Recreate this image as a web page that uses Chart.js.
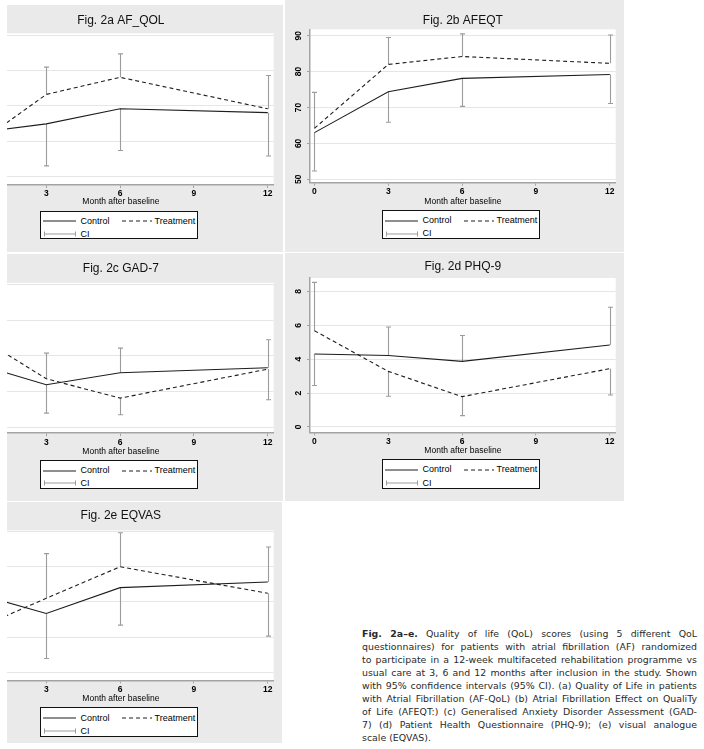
<!DOCTYPE html>
<html>
<head>
<meta charset="utf-8">
<script src="https://cdn.jsdelivr.net/npm/chart.js@4.4.1/dist/chart.umd.min.js"></script>
<style>
body { margin: 0; width: 704px; height: 749px; position: relative; overflow: hidden; background: #fff; font-family: "Liberation Sans", Arial, sans-serif; }
.panel { position: absolute; background: #eaeaea; overflow: hidden; }
.full { position: absolute; top: 0; width: 339px; }
.full canvas { position: absolute; left: 0; top: 0; }
.legend { position: absolute; left: 96.5px; width: 158px; background: #fff; border: 1px solid #111; box-sizing: border-box; }
.legend span { position: absolute; font-size: 9px; line-height: 10px; color: #000; white-space: nowrap; }
.legend svg { position: absolute; }
.caption { position: absolute; left: 362px; top: 627px; width: 335px; font-family: "DejaVu Sans", Verdana, sans-serif; font-size: 9.4px; line-height: 13px; color: #2a2a2a; }
.caption div { white-space: nowrap; text-align: justify; text-align-last: justify; }
.caption div:last-child { text-align-last: left; }
</style>
</head>
<body>
<div id="charts"></div>
<div class="caption">
<div><b>Fig. 2a–e.</b> Quality of life (QoL) scores (using 5 different QoL</div>
<div>questionnaires) for patients with atrial fibrillation (AF) randomized</div>
<div>to participate in a 12-week multifaceted rehabilitation programme vs</div>
<div>usual care at 3, 6 and 12 months after inclusion in the study. Shown</div>
<div>with 95% confidence intervals (95% CI). (a) Quality of Life in patients</div>
<div>with Atrial Fibrillation (AF-QoL) (b) Atrial Fibrillation Effect on QualiTy</div>
<div>of Life (AFEQT:) (c) Generalised Anxiety Disorder Assessment (GAD-</div>
<div>7) (d) Patient Health Questionnaire (PHQ-9); (e) visual analogue</div>
<div>scale (EQVAS).</div>
</div>
<script>
// months after baseline
const months = [0, 3, 6, 12];
const xTicks = [0, 3, 6, 9, 12];

// a: AF_QOL (y labels are cut off in the original, scale guessed)
const afqolTicks = [40, 50, 60, 70, 80];
const afqolControl = [52.2, 54.9, 59.2, 58.1];
const afqolTreatment = [48.2, 63.3, 68.2, 59.2];
const afqolUpper = [60.0, 71.1, 74.9, 68.7];
const afqolLower = [42.0, 42.9, 47.3, 45.7];

// b: AFEQT
const afeqtTicks = [50, 60, 70, 80, 90];
const afeqtControl = [63.0, 74.4, 78.1, 79.2];
const afeqtTreatment = [64.2, 82.0, 84.2, 82.3];
const afeqtUpper = [74.2, 89.5, 90.5, 90.2];
const afeqtLower = [52.3, 65.9, 70.3, 71.1];

// c: GAD-7 (y labels cut off)
const gadTicks = [0, 2, 4, 6, 8];
const gadControl = [3.62, 2.38, 3.06, 3.34];
const gadTreatment = [5.29, 2.72, 1.63, 3.26];
const gadUpper = [6.5, 4.16, 4.44, 4.91];
const gadLower = [1.8, 0.79, 0.70, 1.54];

// d: PHQ-9
const phqTicks = [0, 2, 4, 6, 8];
const phqControl = [4.31, 4.22, 3.87, 4.84];
const phqTreatment = [5.68, 3.28, 1.79, 3.44];
const phqUpper = [8.53, 5.90, 5.40, 7.06];
const phqLower = [2.45, 1.81, 0.67, 1.89];

// e: EQVAS (y labels cut off)
const eqvasTicks = [50, 60, 70, 80, 90];
const eqvasControl = [72.6, 66.7, 74.0, 75.6];
const eqvasTreatment = [61.9, 71.0, 79.9, 72.4];
const eqvasUpper = [82.0, 83.6, 89.5, 85.5];
const eqvasLower = [52.0, 54.0, 63.4, 60.3];

const panels = [
  { title: 'Fig. 2a AF_QOL', ticks: afqolTicks, control: afqolControl, treatment: afqolTreatment, upper: afqolUpper, lower: afqolLower,
    yMin: 37.43, yMax: 80.77, box: [7, 5, 276, 246.5], shift: -64,
    titleY: 15.8, plotTop: 28.3, plotBottom: 180, xTitleY: 196.7, legTop: 205.7, legH: 28.8 },
  { title: 'Fig. 2b AFEQT', ticks: afeqtTicks, control: afeqtControl, treatment: afeqtTreatment, upper: afeqtUpper, lower: afeqtLower,
    yMin: 49.05, yMax: 91.78, box: [285, 0, 339.3, 251.5], shift: 0,
    titleY: 20.5, plotTop: 29.3, plotBottom: 182.7, xTitleY: 201.7, legTop: 210.3, legH: 28.8 },
  { title: 'Fig. 2c GAD-7', ticks: gadTicks, control: gadControl, treatment: gadTreatment, upper: gadUpper, lower: gadLower,
    yMin: -0.34, yMax: 8.11, box: [7, 253.5, 276, 247.2], shift: -64,
    titleY: 14.8, plotTop: 28.8, plotBottom: 179.2, xTitleY: 197.5, legTop: 206.5, legH: 28.8 },
  { title: 'Fig. 2d PHQ-9', ticks: phqTicks, control: phqControl, treatment: phqTreatment, upper: phqUpper, lower: phqLower,
    yMin: -0.32, yMax: 8.79, box: [285, 253.3, 339.3, 247.4], shift: 0,
    titleY: 13.4, plotTop: 25, plotBottom: 179.4, xTitleY: 198, legTop: 206, legH: 29.4 },
  { title: 'Fig. 2e EQVAS', ticks: eqvasTicks, control: eqvasControl, treatment: eqvasTreatment, upper: eqvasUpper, lower: eqvasLower,
    yMin: 47.8, yMax: 90.17, box: [7, 502.3, 275, 240.4], shift: -64,
    titleY: 14, plotTop: 28.4, plotBottom: 178.4, xTitleY: 196.7, legTop: 205, legH: 29.5 }
];

const W = 339;
const plotLeft = 25;
const plotRight = 330.7;
const axisGray = '#a3a3a3';
const lineColor = '#1e1e1e';
const ciColor = '#9c9c9c';

function legendHtml(p) {
  const r1 = p.legH * 0.33, r2 = p.legH * 0.78;
  return `<div class="legend" style="top:${p.legTop}px;height:${p.legH}px">
    <svg style="left:2px;top:${r1 - 5}px" width="34" height="10"><line x1="0" y1="5" x2="33" y2="5" stroke="${lineColor}" stroke-width="1"/></svg>
    <span style="left:40px;top:${r1 - 5.5}px">Control</span>
    <svg style="left:81px;top:${r1 - 5}px" width="32" height="10"><line x1="0" y1="5" x2="30" y2="5" stroke="${lineColor}" stroke-width="1" stroke-dasharray="4 3"/></svg>
    <span style="left:114px;top:${r1 - 5.5}px">Treatment</span>
    <svg style="left:2px;top:${r2 - 5}px" width="34" height="10"><path d="M1 5H33M1.5 2.5V7.5M32.5 2.5V7.5" stroke="${ciColor}" stroke-width="1" fill="none"/></svg>
    <span style="left:40px;top:${r2 - 5.5}px">CI</span>
  </div>`;
}

panels.forEach(p => {
  const [left, top, w, h] = p.box;
  const div = document.createElement('div');
  div.className = 'panel';
  div.style.cssText = `left:${left}px;top:${top}px;width:${w}px;height:${h}px`;
  const full = document.createElement('div');
  full.className = 'full';
  full.style.left = p.shift + 'px';
  full.style.height = h + 'px';
  const canvas = document.createElement('canvas');
  const xAxisH = p.xTitleY - p.plotBottom + 5.1;
  canvas.width = W;
  canvas.height = Math.round(p.plotBottom + xAxisH);
  full.appendChild(canvas);
  full.insertAdjacentHTML('beforeend', legendHtml(p));
  div.appendChild(full);
  document.getElementById('charts').appendChild(div);

  const titlePadTop = p.titleY - 7.2;
  const titlePadBottom = p.plotTop - titlePadTop - 14.4;

  new Chart(canvas, {
    type: 'line',
    data: {
      datasets: [
        { label: 'Control', data: months.map((m, i) => ({ x: m, y: p.control[i] })),
          borderColor: lineColor, borderWidth: 1.1, pointRadius: 0, tension: 0 },
        { label: 'Treatment', data: months.map((m, i) => ({ x: m, y: p.treatment[i] })),
          borderColor: lineColor, borderWidth: 1.1, borderDash: [4, 3], pointRadius: 0, tension: 0 }
      ]
    },
    options: {
      responsive: false,
      animation: false,
      devicePixelRatio: 1,
      layout: { padding: { left: 0, right: W - plotRight, top: 0, bottom: canvas.height - p.plotBottom - xAxisH } },
      plugins: {
        legend: { display: false },
        tooltip: { enabled: false },
        title: {
          display: true, text: p.title, fullSize: false, color: '#111',
          font: { family: 'Liberation Sans', size: 12, weight: 'normal', lineHeight: 1.2 },
          padding: { top: titlePadTop, bottom: titlePadBottom }
        }
      },
      scales: {
        x: {
          type: 'linear', min: -0.18, max: 12.24,
          afterBuildTicks: s => { s.ticks = xTicks.map(v => ({ value: v })); },
          afterFit: s => { s.height = xAxisH; },
          grid: { drawOnChartArea: false, drawTicks: true, tickLength: 3, tickColor: axisGray },
          border: { display: true, color: axisGray, width: 1.5 },
          ticks: { color: '#000', padding: 1, font: { family: 'Liberation Sans', size: 8.5, weight: 'bold' } },
          title: { display: true, text: 'Month after baseline', color: '#000', padding: 0,
                   font: { family: 'Liberation Sans', size: 8.5, lineHeight: 1.2 } }
        },
        y: {
          type: 'linear', min: p.yMin, max: p.yMax,
          afterBuildTicks: s => { s.ticks = p.ticks.map(v => ({ value: v })); },
          afterFit: s => { s.width = plotLeft; },
          grid: { color: '#e6e6e6', lineWidth: 1, drawTicks: true, tickLength: 3, tickColor: axisGray },
          border: { display: true, color: axisGray, width: 1.5 },
          ticks: { display: false }
        }
      }
    },
    plugins: [{
      id: 'stataLook',
      beforeDraw(chart) {
        const a = chart.chartArea, ctx = chart.ctx;
        ctx.save();
        ctx.fillStyle = '#fff';
        ctx.fillRect(a.left, a.top, a.right - a.left, a.bottom - a.top);
        ctx.restore();
      },
      beforeDatasetsDraw(chart) {
        // CI: from the higher mean up, from the lower mean down
        const xs = chart.scales.x, ys = chart.scales.y, ctx = chart.ctx;
        ctx.save();
        ctx.strokeStyle = ciColor;
        ctx.lineWidth = 1.1;
        months.forEach((m, i) => {
          const x = Math.round(xs.getPixelForValue(m)) + 0.5;
          const hi = Math.max(p.control[i], p.treatment[i]);
          const lo = Math.min(p.control[i], p.treatment[i]);
          [[hi, p.upper[i]], [lo, p.lower[i]]].forEach(([from, to]) => {
            const y1 = ys.getPixelForValue(from), y2 = ys.getPixelForValue(to);
            ctx.beginPath();
            ctx.moveTo(x, y1);
            ctx.lineTo(x, y2);
            ctx.moveTo(x - 2.5, y2);
            ctx.lineTo(x + 2.5, y2);
            ctx.stroke();
          });
        });
        ctx.restore();
      },
      afterDraw(chart) {
        // Stata style vertical y labels
        const ys = chart.scales.y, ctx = chart.ctx;
        ctx.save();
        ctx.fillStyle = '#000';
        ctx.font = 'bold 8.5px "Liberation Sans"';
        ctx.textAlign = 'center';
        ctx.textBaseline = 'middle';
        p.ticks.forEach(v => {
          ctx.save();
          ctx.translate(14, ys.getPixelForValue(v));
          ctx.rotate(-Math.PI / 2);
          ctx.fillText(String(v), 0, 0);
          ctx.restore();
        });
        ctx.restore();
      }
    }]
  });
});
</script>
</body>
</html>
